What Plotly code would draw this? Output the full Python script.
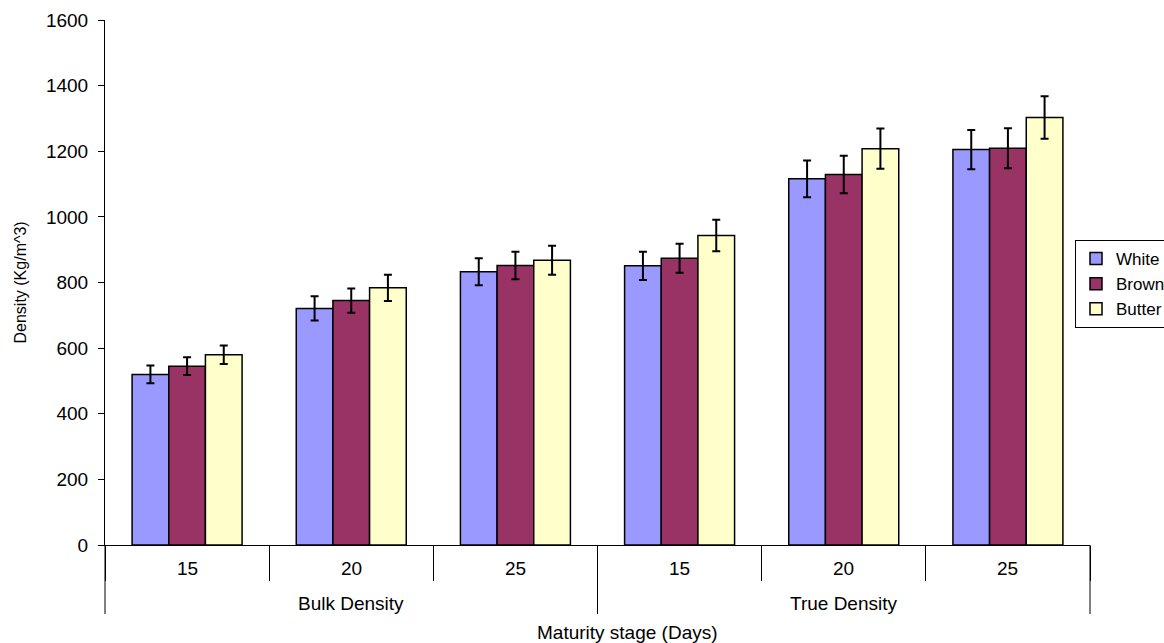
import plotly.graph_objects as go

groups = ["Bulk Density", "Bulk Density", "Bulk Density", "True Density", "True Density", "True Density"]
stages = ["15", "20", "25", "15", "20", "25"]
group_names = ["Bulk Density", "True Density"]

white = [520, 721, 833, 851, 1116, 1205]
brown = [545, 745, 852, 874, 1129, 1209]
butter = [580, 784, 868, 943, 1208, 1303]

white_err = [27, 37, 41, 43, 56, 60]
brown_err = [27, 37, 42, 44, 57, 61]
butter_err = [28, 40, 44, 48, 61, 65]

series = [
    ("White", white, white_err, "#9999FF"),
    ("Brown", brown, brown_err, "#993366"),
    ("Butter", butter, butter_err, "#FFFFCC"),
]

FONT = "Liberation Sans, Arial, sans-serif"
TXT = 19

fig = go.Figure()
for name, vals, errs, col in series:
    fig.add_trace(go.Bar(
        name=name,
        x=[groups, stages],
        y=vals,
        marker=dict(color=col, line=dict(color="black", width=1.5)),
        error_y=dict(type="data", array=errs, visible=True, color="black", thickness=2, width=4),
    ))

n = len(stages)
plot_h = 525.0

annotations = []
for i, s in enumerate(stages):
    annotations.append(dict(
        x=(i + 0.5) / n, y=-23 / plot_h, xref="paper", yref="paper",
        text=s, showarrow=False, xanchor="center", yanchor="middle",
        font=dict(family=FONT, size=TXT, color="black"),
    ))
ng = len(group_names)
for j, g in enumerate(group_names):
    annotations.append(dict(
        x=(j + 0.5) / ng, y=-58 / plot_h, xref="paper", yref="paper",
        text=g, showarrow=False, xanchor="center", yanchor="middle",
        font=dict(family=FONT, size=TXT, color="black"),
    ))
annotations.append(dict(
    x=0.53, y=-87 / plot_h, xref="paper", yref="paper",
    text="Maturity stage (Days)", showarrow=False, xanchor="center", yanchor="middle",
    font=dict(family=FONT, size=TXT, color="black"),
))
annotations.append(dict(
    x=-85 / 985.0, y=0.5, xref="paper", yref="paper",
    text="Density (Kg/m^3)", showarrow=False, xanchor="center", yanchor="middle",
    textangle=-90, font=dict(family=FONT, size=16, color="black"),
))

shapes = []
for j in range(ng + 1):
    xp = j / ng
    shapes.append(dict(
        type="line", xref="paper", yref="paper",
        x0=xp, x1=xp, y0=0, y1=-69 / plot_h,
        line=dict(color="black", width=1),
    ))

fig.update_layout(
    barmode="group",
    bargap=0.33,
    bargroupgap=0,
    width=1164,
    height=643,
    margin=dict(l=105, r=74, t=20, b=98, autoexpand=False),
    plot_bgcolor="white",
    paper_bgcolor="white",
    font=dict(family=FONT, size=TXT, color="black"),
    legend=dict(
        x=(1075 - 105) / 985.0, y=(545 - 240) / plot_h, xanchor="left", yanchor="top",
        bordercolor="black", borderwidth=1, bgcolor="white",
        font=dict(family=FONT, size=17), tracegroupgap=0, itemwidth=30,
    ),
    showlegend=True,
    annotations=annotations,
    shapes=shapes,
)

fig.update_yaxes(
    range=[0, 1600], dtick=200, showgrid=False, zeroline=False,
    showline=True, linecolor="black", linewidth=1,
    ticks="outside", ticklen=6, tickcolor="black",
    ticklabelstandoff=6,
    tickfont=dict(family=FONT, size=TXT),
)
fig.update_xaxes(
    type="multicategory",
    showgrid=False, showline=True, linecolor="black", linewidth=1,
    ticks="outside", tickson="boundaries", ticklen=35, tickcolor="black",
    showticklabels=False, showdividers=False,
)

fig.write_html(
    "out.html",
    config={"displayModeBar": False},
    post_script="document.body.style.margin='0';document.body.style.padding='0';",
)
